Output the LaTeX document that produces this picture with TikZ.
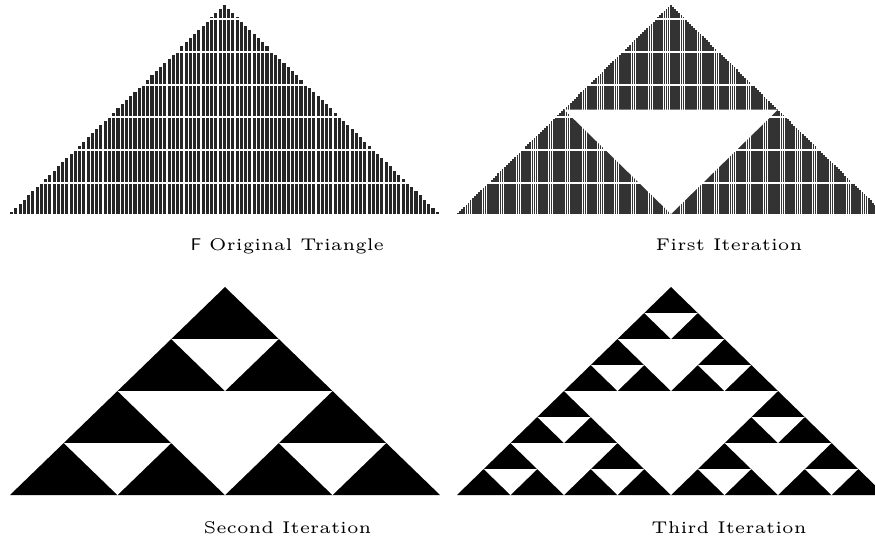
\documentclass[tikz,border=0pt]{standalone}
\newcommand{\sierhole}[4]{%
  \fill[white] (#1-#3/2,#2+#4/2) -- (#1+#3/2,#2+#4/2) -- (#1,#2+#4) -- cycle;}
\begin{document}
\begin{tikzpicture}[x=1pt,y=-1pt,line join=round,
  stripe/.style={fill=black!85},
  finestripe/.style={fill=black!80},
  gap/.style={draw=white,line width=1.2pt},
  caption/.style={anchor=base,inner sep=0pt,scale=3.4,font=\fontsize{5}{6}\selectfont}]
  \useasboundingbox (0,0) rectangle (875,542);
  \clip (0,0) rectangle (875,542);
  \foreach \i in {0,...,100} {
    \pgfmathsetmacro\dist{abs(\i-50)}
    \pgfmathsetmacro\ytop{214-209*(1-\dist/50.5)}
    \fill[stripe] ({10+\i*4.257},\ytop) rectangle ({10+\i*4.257+3.1},214);
  }
  \foreach \i in {0,...,200} {
    \pgfmathsetmacro\dist{abs(\i-100)}
    \pgfmathsetmacro\ytop{214-209*(1-\dist/100.5)}
    \fill[finestripe] ({457+\i*2.129},\ytop) rectangle ({457+\i*2.129+1.7},214);
  }
  \foreach \y in {19,52,85,117,150,183} {
    \draw[gap] (0,\y) -- (875,\y);
  }
  \sierhole{671}{5}{214}{209}
  \fill (225,287) -- (440,495) -- (10,495) -- cycle;
  \sierhole{225}{287}{215}{208}
  \foreach \ax/\ay in {225/287,117.5/391,332.5/391} {
    \sierhole{\ax}{\ay}{107.5}{104}
  }
  \fill (671,287) -- (885,495) -- (457,495) -- cycle;
  \sierhole{671}{287}{214}{208}
  \foreach \ax/\ay in {671/287,564/391,778/391} {
    \sierhole{\ax}{\ay}{107}{104}
  }
  \foreach \ax/\ay in {671/287,617.5/339,724.5/339,564/391,778/391,
      510.5/443,617.5/443,724.5/443,831.5/443} {
    \sierhole{\ax}{\ay}{53.5}{52}
  }
  \node[caption] (orig) at (287.5,250) {{\sffamily F} Original Triangle};
  \node[caption] (first) at (729,250) {First Iteration};
  \node[caption] (second) at (287.5,533) {Second Iteration};
  \node[caption] (third) at (729,533) {Third Iteration};
\end{tikzpicture}
\end{document}
